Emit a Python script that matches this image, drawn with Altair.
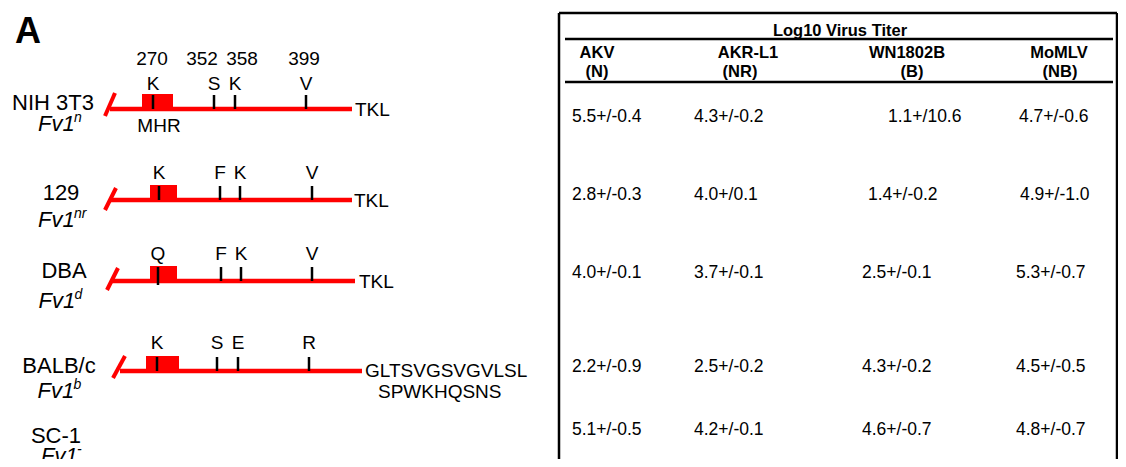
import altair as alt
import pandas as pd

# ---------------- content ----------------
panel_label = "A"
strains = ["NIH 3T3", "129", "DBA", "BALB/c", "SC-1"]
allele_base = "Fv1"
allele_sup = ["n", "nr", "d", "b", "-"]
residue_numbers = ["270", "352", "358", "399"]
residues = [
    ["K", "S", "K", "V"],
    ["K", "F", "K", "V"],
    ["Q", "F", "K", "V"],
    ["K", "S", "E", "R"],
]
region_label = "MHR"
tails = [["TKL"], ["TKL"], ["TKL"], ["GLTSVGSVGVLSL", "SPWKHQSNS"]]
table_title = "Log10 Virus Titer"
virus_names = ["AKV", "AKR-L1", "WN1802B", "MoMLV"]
virus_tropism = ["(N)", "(NR)", "(B)", "(NB)"]
titers = [
    ["5.5+/-0.4", "4.3+/-0.2", "1.1+/10.6", "4.7+/-0.6"],
    ["2.8+/-0.3", "4.0+/0.1", "1.4+/-0.2", "4.9+/-1.0"],
    ["4.0+/-0.1", "3.7+/-0.1", "2.5+/-0.1", "5.3+/-0.7"],
    ["2.2+/-0.9", "2.5+/-0.2", "4.3+/-0.2", "4.5+/-0.5"],
    ["5.1+/-0.5", "4.2+/-0.1", "4.6+/-0.7", "4.8+/-0.7"],
]

# ---------------- layout (figure pixel coordinates) ----------------
line_y = [109, 200, 281, 371]
line_x0 = [110, 110, 111, 120]
line_x1 = [352, 352, 355, 362]
box_x0 = [142, 150, 150, 146]
box_x1 = [173, 177, 177, 179]
tick_x = [[153, 214, 235, 306], [159, 220, 240, 312], [158, 221, 241, 312], [157, 217, 238, 309]]
letter_y = [83, 172, 253, 342]
slash_bottom = [(105, 116), (105, 210), (107, 290), (113, 378)]
slash_top = [(115, 93), (116, 188), (118, 268), (125, 356)]
number_x = [152, 202, 242, 304]
number_y = 58
mhr_pos = (159, 125)
tail_pos = [[(355, 109)], [(354, 200)], [(359, 281)], [(365, 370), (378, 391)]]
label_x = [53, 61, 64, 59, 56]
label_y = [102, 192, 270, 365, 435]
fv1_x = [38, 38, 38.5, 37.5, 41]
fv1_y = [123, 219, 300, 390, 455]
sup_dx = 36
panel_pos = (15, 30)

table_left, table_right, table_top, table_bottom = 559, 1117, 13, 470
rule_x0, rule_x1 = 565, 1113
rule_y = [39, 82]
title_pos = (840, 30)
name_x = [597, 748, 907, 1059]
name_y = 52
trop_x = [597, 740, 912, 1060]
trop_y = 71
val_y = [116, 194, 272, 366, 429]
val_x = [
    [572, 694, 888, 1019],
    [572, 694, 868, 1020],
    [572, 694, 862, 1016],
    [572, 694, 862, 1016],
    [572, 694, 862, 1016],
]

RED = "#ff0000"
FONT = "Liberation Sans"

W, H = 1110, 451
xs = alt.Scale(domain=[8, 8 + W], nice=False, zero=False)
ys = alt.Scale(domain=[8, 8 + H], nice=False, zero=False, reverse=True)


def X(f="x"):
    return alt.X(f"{f}:Q", scale=xs, axis=None)


def Y(f="y"):
    return alt.Y(f"{f}:Q", scale=ys, axis=None)


def bl(yc, size):
    # baseline from visual centre of capitals / digits
    return yc + 0.358 * size


# ---------------- geometry tables ----------------
red_lines = []
for i in range(4):
    red_lines.append(dict(x=line_x0[i], x2=line_x1[i], y=line_y[i], y2=line_y[i], w=4.5))
    red_lines.append(dict(x=slash_bottom[i][0], x2=slash_top[i][0],
                          y=slash_bottom[i][1], y2=slash_top[i][1], w=4))
red_lines = pd.DataFrame(red_lines)

boxes = pd.DataFrame([
    dict(x=box_x0[i], x2=box_x1[i], y=line_y[i] - 15, y2=line_y[i] + 2) for i in range(4)
])

black_lines = []
for i in range(4):
    for k, tx in enumerate(tick_x[i]):
        bottom = line_y[i] + (4 if (i == 2 and k == 0) else 0)
        black_lines.append(dict(x=tx, x2=tx, y=line_y[i] - 14, y2=bottom, w=2.5))
# table frame and header rules
black_lines.append(dict(x=table_left, x2=table_right, y=table_top, y2=table_top, w=2.5))
black_lines.append(dict(x=table_left, x2=table_left, y=table_top, y2=table_bottom, w=2.5))
black_lines.append(dict(x=table_right, x2=table_right, y=table_top, y2=table_bottom, w=2.5))
for ry in rule_y:
    black_lines.append(dict(x=rule_x0, x2=rule_x1, y=ry, y2=ry, w=2.5))
black_lines = pd.DataFrame(black_lines)

# ---------------- text tables ----------------
center_normal = []
for k, n in enumerate(residue_numbers):
    center_normal.append(dict(x=number_x[k], y=bl(number_y, 19), t=n, s=19))
for i in range(4):
    for k, r in enumerate(residues[i]):
        center_normal.append(dict(x=tick_x[i][k], y=bl(letter_y[i], 19), t=r, s=19))
center_normal.append(dict(x=mhr_pos[0], y=bl(mhr_pos[1], 19), t=region_label, s=19))
for i, s in enumerate(strains):
    center_normal.append(dict(x=label_x[i], y=bl(label_y[i], 22), t=s, s=22))
center_normal = pd.DataFrame(center_normal)

left_normal = []
for i in range(4):
    for (tx, ty), t in zip(tail_pos[i], tails[i]):
        left_normal.append(dict(x=tx, y=bl(ty, 19), t=t, s=19))
for r in range(5):
    for c in range(4):
        left_normal.append(dict(x=val_x[r][c], y=bl(val_y[r], 17.5), t=titers[r][c], s=17.5))
left_normal = pd.DataFrame(left_normal)

left_italic = []
for i in range(5):
    left_italic.append(dict(x=fv1_x[i], y=bl(fv1_y[i], 22), t=allele_base, s=22))
    left_italic.append(dict(x=fv1_x[i] + sup_dx, y=fv1_y[i] - 1, t=allele_sup[i], s=14))
left_italic = pd.DataFrame(left_italic)

center_bold = [dict(x=title_pos[0], y=bl(title_pos[1], 16.5), t=table_title, s=16.5)]
for k in range(4):
    center_bold.append(dict(x=name_x[k], y=bl(name_y, 16.5), t=virus_names[k], s=16.5))
    center_bold.append(dict(x=trop_x[k], y=bl(trop_y, 16.5), t=virus_tropism[k], s=16.5))
center_bold = pd.DataFrame(center_bold)

left_bold = pd.DataFrame([dict(x=panel_pos[0], y=bl(panel_pos[1], 36), t=panel_label, s=36)])


# ---------------- layers ----------------
def rules(df, color):
    return alt.Chart(df).mark_rule(color=color, strokeCap="butt").encode(
        x=X(), x2="x2:Q", y=Y(), y2="y2:Q",
        strokeWidth=alt.StrokeWidth("w:Q", scale=None, legend=None),
    )


def texts(df, align, weight="normal", style="normal"):
    return alt.Chart(df).mark_text(
        align=align, baseline="alphabetic", font=FONT, fontWeight=weight,
        fontStyle=style, color="black",
    ).encode(
        x=X(), y=Y(), text="t:N",
        size=alt.Size("s:Q", scale=None, legend=None),
    )


box_layer = alt.Chart(boxes).mark_rect(color=RED).encode(x=X(), x2="x2:Q", y=Y(), y2="y2:Q")

chart = alt.layer(
    rules(red_lines, RED),
    box_layer,
    rules(black_lines, "black"),
    texts(center_normal, "center"),
    texts(left_normal, "left"),
    texts(left_italic, "left", style="italic"),
    texts(center_bold, "center", weight="bold"),
    texts(left_bold, "left", weight="bold"),
).properties(
    width=W, height=H,
    autosize=alt.AutoSizeParams(type="none"),
    padding=0,
).configure(
    background="white",
    view=alt.ViewConfig(stroke=None),
)

chart.save("out.html", embed_options={"renderer": "svg", "actions": False})
